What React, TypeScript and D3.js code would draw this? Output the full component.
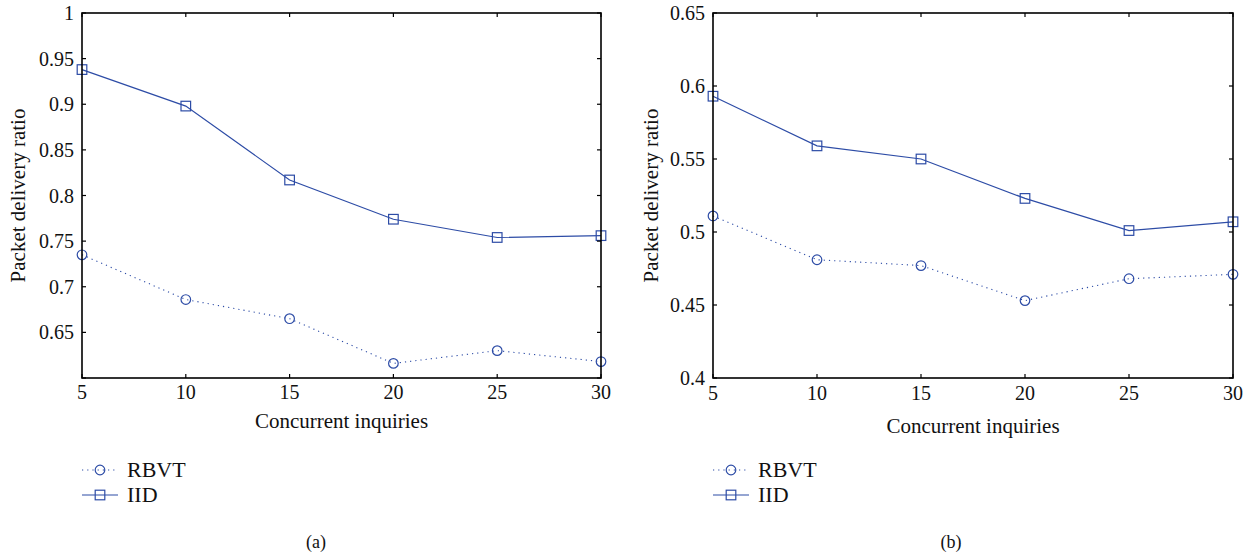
import React from "react";
import * as d3 from "d3";

const concurrent = [5, 10, 15, 20, 25, 30];
const rbvtA = [0.735, 0.686, 0.665, 0.616, 0.630, 0.618];
const iidA = [0.938, 0.898, 0.817, 0.774, 0.754, 0.756];
const rbvtB = [0.511, 0.481, 0.477, 0.453, 0.468, 0.471];
const iidB = [0.593, 0.559, 0.550, 0.523, 0.501, 0.507];
const yTicksA = [0.6, 0.65, 0.7, 0.75, 0.8, 0.85, 0.9, 0.95, 1];
const yTickLabelsA = ["", "0.65", "0.7", "0.75", "0.8", "0.85", "0.9", "0.95", "1"];
const yTicksB = [0.4, 0.45, 0.5, 0.55, 0.6, 0.65];
const yTickLabelsB = ["0.4", "0.45", "0.5", "0.55", "0.6", "0.65"];
const seriesNames = ["RBVT", "IID"];

const BLUE = "#2d4ca6";
const FONT = "'Liberation Serif', 'DejaVu Serif', serif";

type PanelProps = {
  left: number; right: number; top: number; bottom: number;
  yDomain: [number, number]; yTicks: number[]; yLabels: string[];
  rbvt: number[]; iid: number[]; caption: string; captionX: number;
  xLabelY: number; yLabelX: number; xTickY: number;
};

function Panel(p: PanelProps) {
  const x = d3.scaleLinear().domain([5, 30]).range([p.left, p.right]);
  const y = d3.scaleLinear().domain(p.yDomain).range([p.bottom, p.top]);
  const line = d3.line<number>().x((_, i) => x(concurrent[i])).y((d) => y(d));
  const tl = 4;
  const cx = (p.left + p.right) / 2;
  const legX = p.left;
  return (
    <g fontFamily={FONT} fill="#111">
      <path d={line(p.rbvt) || ""} fill="none" stroke={BLUE} strokeWidth={1.1} strokeDasharray="1.2,4" />
      <path d={line(p.iid) || ""} fill="none" stroke={BLUE} strokeWidth={1.2} />
      {p.rbvt.map((v, i) => (
        <circle key={"c" + i} cx={x(concurrent[i])} cy={y(v)} r={4.8} fill="none" stroke={BLUE} strokeWidth={1.2} />
      ))}
      {p.iid.map((v, i) => (
        <rect key={"r" + i} x={x(concurrent[i]) - 4.8} y={y(v) - 4.8} width={9.6} height={9.6} fill="none" stroke={BLUE} strokeWidth={1.2} />
      ))}
      <rect x={p.left} y={p.top} width={p.right - p.left} height={p.bottom - p.top} fill="none" stroke="#000" strokeWidth={1.6} />
      {concurrent.map((t) => (
        <g key={"xt" + t}>
          <line x1={x(t)} x2={x(t)} y1={p.bottom} y2={p.bottom - tl} stroke="#000" strokeWidth={1.2} />
          <line x1={x(t)} x2={x(t)} y1={p.top} y2={p.top + tl} stroke="#000" strokeWidth={1.2} />
          <text x={x(t)} y={p.xTickY} textAnchor="middle" fontSize={20}>{t}</text>
        </g>
      ))}
      {p.yTicks.map((t, i) => (
        <g key={"yt" + t}>
          <line x1={p.left} x2={p.left + tl} y1={y(t)} y2={y(t)} stroke="#000" strokeWidth={1.2} />
          <line x1={p.right} x2={p.right - tl} y1={y(t)} y2={y(t)} stroke="#000" strokeWidth={1.2} />
          <text x={p.left - 8} y={y(t) + 7} textAnchor="end" fontSize={20}>{p.yLabels[i]}</text>
        </g>
      ))}
      <text x={cx} y={p.xLabelY} textAnchor="middle" fontSize={21}>Concurrent inquiries</text>
      <text transform={`translate(${p.yLabelX},${(p.top + p.bottom) / 2}) rotate(-90)`} textAnchor="middle" fontSize={21}>Packet delivery ratio</text>
      <line x1={legX} x2={legX + 36} y1={470} y2={470} stroke={BLUE} strokeWidth={1.1} strokeDasharray="1.2,4" />
      <circle cx={legX + 18} cy={470} r={4.8} fill="none" stroke={BLUE} strokeWidth={1.2} />
      <text x={legX + 45} y={477} fontSize={22}>{seriesNames[0]}</text>
      <line x1={legX} x2={legX + 36} y1={495} y2={495} stroke={BLUE} strokeWidth={1.2} />
      <rect x={legX + 13.2} y={490.2} width={9.6} height={9.6} fill="none" stroke={BLUE} strokeWidth={1.2} />
      <text x={legX + 45} y={502} fontSize={22}>{seriesNames[1]}</text>
      <text x={p.captionX} y={548} textAnchor="middle" fontSize={18}>{p.caption}</text>
    </g>
  );
}

export default function App() {
  return (
    <svg width={1256} height={557} style={{ position: "absolute", left: 0, top: 0, background: "#fff" }}>
      <rect width={1256} height={557} fill="#fff" />
      <Panel left={82} right={601} top={13} bottom={378} yDomain={[0.6, 1]} yTicks={yTicksA} yLabels={yTickLabelsA}
        rbvt={rbvtA} iid={iidA} caption="(a)" captionX={316} xLabelY={428} yLabelX={25} xTickY={399} />
      <Panel left={713} right={1233} top={13} bottom={378} yDomain={[0.4, 0.65]} yTicks={yTicksB} yLabels={yTickLabelsB}
        rbvt={rbvtB} iid={iidB} caption="(b)" captionX={951} xLabelY={433} yLabelX={658} xTickY={400} />
    </svg>
  );
}
